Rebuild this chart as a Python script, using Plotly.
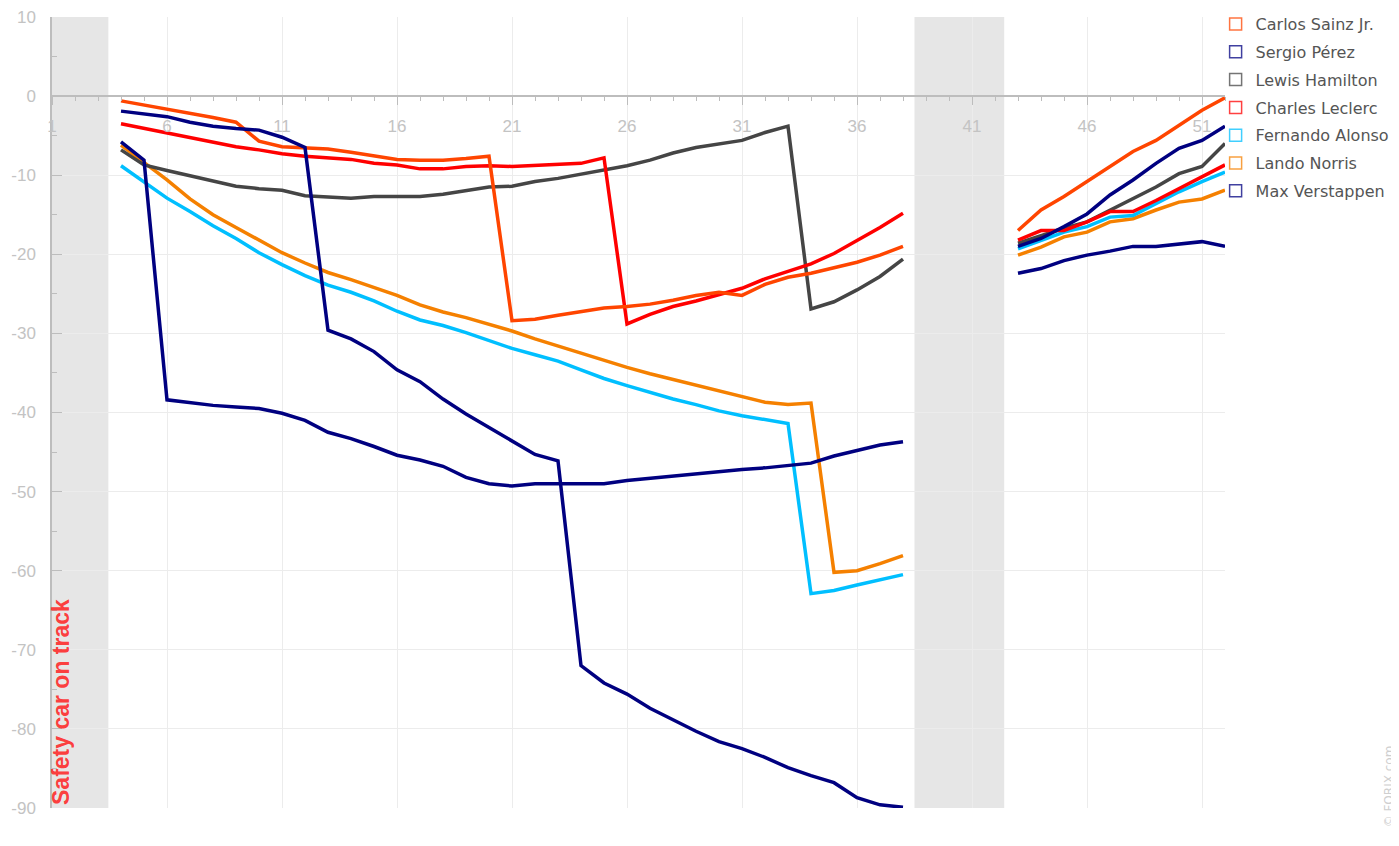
import plotly.graph_objects as go

# ---------------- data ----------------
laps = list(range(4, 53))  # laps 4..52 (39-42 = safety car, no data)

sainz = [-0.6, -1.1, -1.6, -2.2, -2.7, -3.3, -5.7, -6.4, -6.6, -6.7, -7.1, -7.6, -8.0, -8.1, -8.1,
         -7.9, -7.6, -28.4, -28.2, -27.7, -27.2, -26.8, -26.6, -26.3, -25.8, -25.2, -24.8, -25.2,
         -23.8, -22.9, -22.4, -21.7, -21.0, -20.1, -19.0,
         None, None, None, None,
         -17.0, -14.4, -12.7, -10.8, -8.9, -7.0, -5.6, -3.7, -1.8, -0.2]
perez = [-5.8, -8.1, -38.4, -38.8, -39.1, -39.3, -39.5, -40.1, -41.0, -42.5, -43.3, -44.3, -45.4,
         -46.0, -46.8, -48.2, -49.0, -49.3, -49.0, -49.0, -49.0, -49.0, -48.6, -48.3, -48.1, -47.8,
         -47.5, -47.2, -47.0, -46.7, -46.4, -45.5, -44.8, -44.1, -43.7,
         None, None, None, None,
         -19.0, -18.0, -16.5, -14.9, -12.5, -10.6, -8.5, -6.6, -5.6, -3.8]
hamilton = [-6.8, -8.7, -9.4, -10.1, -10.8, -11.4, -11.7, -11.9, -12.6, -12.7, -12.9, -12.7, -12.7,
            -12.7, -12.4, -11.9, -11.5, -11.4, -10.8, -10.4, -9.9, -9.3, -8.8, -8.1, -7.2, -6.5,
            -6.0, -5.6, -4.6, -3.8, -26.9, -26.0, -24.5, -22.8, -20.6,
            None, None, None, None,
            -18.6, -17.6, -16.7, -15.9, -14.4, -12.9, -11.5, -9.8, -8.9, -6.0]
leclerc = [-3.5, -4.1, -4.7, -5.3, -5.9, -6.4, -6.8, -7.3, -7.6, -7.8, -8.0, -8.5, -8.7, -9.2, -9.2,
           -8.9, -8.8, -8.9, -8.8, -8.6, -8.5, -7.8, -28.8, -27.6, -26.6, -25.9, -25.1, -24.3,
           -23.1, -22.2, -21.2, -19.9, -18.3, -16.6, -14.8,
           None, None, None, None,
           -18.2, -17.0, -17.0, -15.9, -14.6, -14.6, -13.2, -11.7, -10.2, -8.7]
alonso = [-8.8, -10.9, -12.9, -14.6, -16.4, -18.0, -19.8, -21.3, -22.7, -23.9, -24.8, -25.9, -27.2,
          -28.3, -29.0, -29.9, -30.9, -31.9, -32.7, -33.5, -34.6, -35.7, -36.6, -37.5, -38.3, -39.0,
          -39.8, -40.4, -40.9, -41.4, -62.9, -62.5, -61.8, -61.2, -60.5,
          None, None, None, None,
          -19.3, -18.2, -17.2, -16.5, -15.3, -15.1, -13.6, -12.1, -10.8, -9.6]
norris = [-6.2, -8.4, -10.6, -13.0, -15.0, -16.6, -18.2, -19.8, -21.1, -22.3, -23.2, -24.2, -25.2,
          -26.4, -27.3, -28.0, -28.8, -29.7, -30.7, -31.6, -32.5, -33.5, -34.3, -35.1, -35.8, -36.5,
          -37.3, -38.0, -38.7, -39.0, -38.8, -60.2, -60.0, -59.1, -58.1,
          None, None, None, None,
          -20.1, -19.1, -17.8, -17.2, -15.9, -15.5, -14.4, -13.4, -13.0, -11.9]
verstappen = [-1.9, -2.2, -2.6, -3.3, -3.8, -4.1, -4.3, -5.2, -6.5, -29.6, -30.7, -32.3, -34.6,
              -36.1, -38.3, -40.2, -41.9, -43.6, -45.3, -46.1, -72.0, -74.2, -75.6, -77.4, -78.9,
              -80.3, -81.6, -82.5, -83.6, -84.9, -85.9, -86.8, -88.7, -89.6, -89.9,
              None, None, None, None,
              -22.4, -21.8, -20.8, -20.1, -19.6, -19.0, -19.0, -18.7, -18.4, -19.0]

drivers = ["Carlos Sainz Jr.", "Sergio Pérez", "Lewis Hamilton", "Charles Leclerc",
           "Fernando Alonso", "Lando Norris", "Max Verstappen"]
series = [sainz, perez, hamilton, leclerc, alonso, norris, verstappen]
colors = ["#ff4500", "#000080", "#454545", "#ff0000", "#00bfff", "#f58000", "#000080"]

sc_periods = [(1, 3.45), (38.5, 42.4)]
x_ticks = list(range(1, 52, 5))
y_ticks = list(range(-90, 11, 10))
y_tick_text = [str(v) for v in y_ticks]  # plain hyphen minus, as in the original

# ---------------- figure ----------------
fig = go.Figure()

draw_order = [5, 4, 2, 3, 0, 1, 6]
for i in draw_order:
    fig.add_trace(go.Scatter(x=laps, y=series[i], mode="lines", name=drivers[i],
                             line=dict(color=colors[i], width=3.5), connectgaps=False,
                             showlegend=False, hoverinfo="x+y+name"))

for i, name in enumerate(drivers):
    fig.add_trace(go.Scatter(x=[None], y=[None], mode="markers", name=name,
                             legendgroup=f"g{i}", legendrank=i + 1,
                             marker=dict(symbol="square-open", size=12, color=colors[i],
                                         opacity=0.75, line=dict(width=1.5, color=colors[i]))))

for x0, x1 in sc_periods:
    fig.add_shape(type="rect", xref="x", yref="paper", x0=x0, x1=x1, y0=0, y1=1,
                  fillcolor="#e6e6e6", line=dict(width=0), layer="below")

fig.add_annotation(x=1.39, y=-76.6, xref="x", yref="y", text="<b>Safety car on track</b>",
                   textangle=-90, showarrow=False,
                   font=dict(family="Liberation Sans, Arial, sans-serif", size=23,
                             color="rgba(255,40,40,0.9)"))

fig.add_annotation(x=1.1398, y=-0.027, xref="paper", yref="paper", text="© FORIX.com",
                   textangle=-90, showarrow=False, xanchor="center", yanchor="bottom",
                   font=dict(family="DejaVu Sans", size=12, color="#cfcfcf"))

tick_font = dict(family="Liberation Sans, Arial, sans-serif", size=17, color="#c3c3c3")

# the page body adds an 8 px offset, so the figure is 8 px smaller than the window
fig.update_layout(
    width=1391, height=838,
    margin=dict(l=44, r=174, t=9, b=38, autoexpand=False),
    paper_bgcolor="white", plot_bgcolor="white",
    font=dict(family="DejaVu Sans", color="#555"),
    showlegend=True,
    legend=dict(x=0.992, xanchor="left", y=1.0125, yanchor="top",
                font=dict(family="DejaVu Sans", size=16, color="#555"),
                traceorder="grouped", tracegroupgap=4, bgcolor="rgba(0,0,0,0)",
                itemclick=False),
    xaxis=dict(range=[1, 52], anchor="free", position=0.9, automargin=False,
               tickvals=x_ticks, ticktext=[str(v) for v in x_ticks],
               showgrid=True, gridcolor="#ececec", gridwidth=1,
               showline=True, linecolor="#bdbdbd", linewidth=1.5,
               ticks="outside", ticklen=8, tickcolor="#bdbdbd", tickwidth=1,
               minor=dict(dtick=1, tick0=1, ticks="outside", ticklen=4, tickcolor="#bdbdbd",
                          showgrid=False),
               ticklabelstandoff=7, ticklabeloverflow="allow",
               tickfont=tick_font, zeroline=False),
    yaxis=dict(range=[-90, 10], tickvals=y_ticks, ticktext=y_tick_text, automargin=False,
               showgrid=True, gridcolor="#ececec", gridwidth=1,
               showline=True, linecolor="#bdbdbd", linewidth=1.5,
               ticks="inside", ticklen=10, tickcolor="#bdbdbd",
               minor=dict(dtick=5, tick0=0, ticks="inside", ticklen=5, tickcolor="#bdbdbd",
                          showgrid=False),
               ticklabelstandoff=11, ticklabeloverflow="allow",
               tickfont=tick_font, zeroline=False),
)

fig.write_html("out.html")
